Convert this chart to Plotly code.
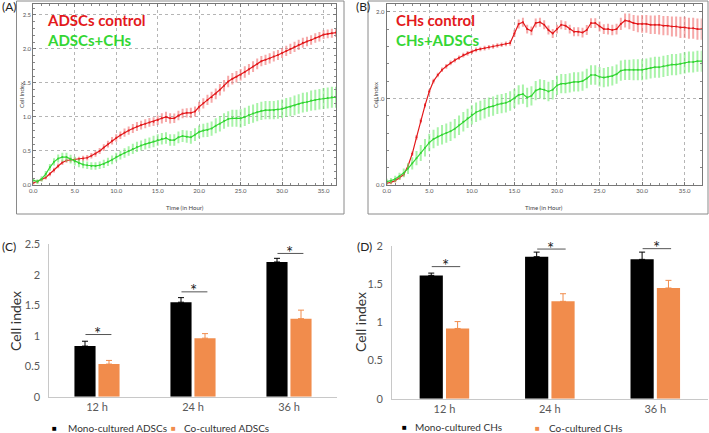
import plotly.graph_objects as go

W, H = 709, 433

# ---- real-time cell index (xCELLigence style) panels A and B ----
hours_a = [i * 0.5 for i in range(74)]   # 0 .. 36.5 h
hours_b = [i * 0.5 for i in range(75)]   # 0 .. 37 h

adsc_control = [
    0.03, 0.05, 0.08, 0.11, 0.16, 0.22, 0.28, 0.33, 0.36, 0.37,
    0.37, 0.38, 0.39, 0.40, 0.43, 0.46, 0.50, 0.55, 0.60, 0.65,
    0.69, 0.73, 0.77, 0.80, 0.83, 0.86, 0.88, 0.90, 0.92, 0.93,
    0.95, 0.98, 1.00, 0.98, 0.98, 1.02, 1.05, 1.06, 1.06, 1.08,
    1.15, 1.20, 1.25, 1.29, 1.34, 1.40, 1.46, 1.52, 1.56, 1.59,
    1.62, 1.66, 1.70, 1.74, 1.78, 1.82, 1.84, 1.86, 1.89, 1.91,
    1.94, 1.97, 2.00, 2.03, 2.06, 2.09, 2.11, 2.13, 2.16, 2.18,
    2.21, 2.22, 2.23, 2.24]
adsc_control_err = [
    0.01, 0.01, 0.01, 0.015, 0.015, 0.02, 0.02, 0.02, 0.02, 0.02,
    0.02, 0.02, 0.025, 0.025, 0.025, 0.03, 0.03, 0.035, 0.035, 0.04,
    0.04, 0.04, 0.045, 0.045, 0.05, 0.05, 0.05, 0.05, 0.05, 0.05,
    0.055, 0.06, 0.06, 0.06, 0.055, 0.055, 0.055, 0.055, 0.06, 0.06,
    0.06, 0.06, 0.06, 0.065, 0.065, 0.07, 0.07, 0.07, 0.07, 0.07,
    0.07, 0.07, 0.065, 0.065, 0.065, 0.06, 0.06, 0.06, 0.06, 0.06,
    0.06, 0.06, 0.06, 0.06, 0.06, 0.06, 0.055, 0.055, 0.055, 0.055,
    0.05, 0.05, 0.05, 0.05]
adsc_coculture = [
    0.07, 0.05, 0.09, 0.16, 0.26, 0.34, 0.39, 0.41, 0.41, 0.38,
    0.35, 0.32, 0.30, 0.29, 0.28, 0.28, 0.29, 0.31, 0.34, 0.37,
    0.41, 0.44, 0.47, 0.50, 0.53, 0.56, 0.58, 0.60, 0.62, 0.64,
    0.66, 0.68, 0.69, 0.66, 0.66, 0.70, 0.72, 0.71, 0.70, 0.74,
    0.78, 0.80, 0.81, 0.83, 0.87, 0.90, 0.94, 0.97, 0.98, 0.98,
    0.98, 1.00, 1.03, 1.05, 1.07, 1.09, 1.10, 1.10, 1.10, 1.11,
    1.12, 1.14, 1.15, 1.17, 1.19, 1.21, 1.22, 1.24, 1.25, 1.26,
    1.27, 1.28, 1.29, 1.29]
adsc_coculture_err = [
    0.02, 0.02, 0.025, 0.03, 0.035, 0.04, 0.045, 0.05, 0.05, 0.05,
    0.05, 0.045, 0.04, 0.04, 0.04, 0.04, 0.04, 0.045, 0.045, 0.05,
    0.05, 0.05, 0.055, 0.055, 0.06, 0.06, 0.06, 0.065, 0.065, 0.07,
    0.07, 0.07, 0.07, 0.07, 0.07, 0.07, 0.075, 0.075, 0.08, 0.08,
    0.08, 0.085, 0.09, 0.09, 0.095, 0.10, 0.10, 0.10, 0.11, 0.11,
    0.12, 0.12, 0.12, 0.12, 0.12, 0.12, 0.12, 0.12, 0.12, 0.12,
    0.12, 0.125, 0.125, 0.13, 0.13, 0.13, 0.13, 0.135, 0.135, 0.135,
    0.14, 0.14, 0.14, 0.14]

ch_control = [
    0.02, 0.03, 0.05, 0.08, 0.12, 0.22, 0.36, 0.55, 0.74, 0.92,
    1.08, 1.20, 1.27, 1.33, 1.37, 1.41, 1.44, 1.47, 1.50, 1.52,
    1.54, 1.56, 1.57, 1.58, 1.59, 1.60, 1.61, 1.62, 1.63, 1.64,
    1.75, 1.86, 1.88, 1.80, 1.78, 1.87, 1.88, 1.85, 1.79, 1.75,
    1.80, 1.85, 1.84, 1.80, 1.77, 1.77, 1.76, 1.79, 1.87, 1.87,
    1.83, 1.80, 1.80, 1.79, 1.80, 1.86, 1.90, 1.89, 1.87, 1.86,
    1.86, 1.86, 1.85, 1.85, 1.85, 1.84, 1.84, 1.83, 1.83, 1.82,
    1.82, 1.81, 1.81, 1.80, 1.80]
ch_control_err = [
    0.01, 0.01, 0.01, 0.01, 0.01, 0.015, 0.015, 0.015, 0.015, 0.015,
    0.015, 0.015, 0.015, 0.015, 0.015, 0.015, 0.015, 0.015, 0.015, 0.015,
    0.015, 0.015, 0.015, 0.015, 0.015, 0.015, 0.015, 0.015, 0.015, 0.02,
    0.03, 0.04, 0.04, 0.04, 0.04, 0.04, 0.04, 0.04, 0.04, 0.04,
    0.04, 0.04, 0.04, 0.04, 0.04, 0.04, 0.045, 0.045, 0.045, 0.045,
    0.045, 0.045, 0.05, 0.05, 0.05, 0.06, 0.07, 0.08, 0.08, 0.085,
    0.09, 0.09, 0.095, 0.095, 0.10, 0.10, 0.10, 0.105, 0.105, 0.11,
    0.11, 0.11, 0.11, 0.11, 0.11]
ch_coculture = [
    0.04, 0.05, 0.07, 0.10, 0.14, 0.19, 0.25, 0.31, 0.37, 0.43,
    0.49, 0.53, 0.56, 0.58, 0.60, 0.62, 0.65, 0.69, 0.73, 0.77,
    0.81, 0.84, 0.86, 0.88, 0.90, 0.91, 0.93, 0.94, 0.95, 0.97,
    1.00, 1.04, 1.05, 1.01, 1.03, 1.09, 1.11, 1.10, 1.08, 1.10,
    1.15, 1.17, 1.17, 1.18, 1.19, 1.19, 1.20, 1.23, 1.27, 1.27,
    1.25, 1.24, 1.25, 1.26, 1.28, 1.32, 1.33, 1.33, 1.33, 1.33,
    1.33, 1.34, 1.35, 1.36, 1.36, 1.37, 1.38, 1.39, 1.39, 1.40,
    1.41, 1.42, 1.42, 1.43, 1.43]
ch_coculture_err = [
    0.02, 0.02, 0.025, 0.03, 0.04, 0.05, 0.06, 0.07, 0.08, 0.09,
    0.09, 0.095, 0.095, 0.10, 0.10, 0.10, 0.10, 0.10, 0.10, 0.10,
    0.10, 0.10, 0.10, 0.10, 0.10, 0.10, 0.10, 0.10, 0.10, 0.10,
    0.10, 0.10, 0.10, 0.10, 0.10, 0.10, 0.10, 0.10, 0.10, 0.10,
    0.10, 0.10, 0.10, 0.10, 0.10, 0.10, 0.10, 0.10, 0.10, 0.10,
    0.10, 0.10, 0.10, 0.10, 0.10, 0.105, 0.105, 0.105, 0.11, 0.11,
    0.11, 0.11, 0.11, 0.11, 0.11, 0.11, 0.11, 0.11, 0.11, 0.11,
    0.11, 0.11, 0.11, 0.11, 0.11]

for arr in (adsc_control, adsc_control_err, adsc_coculture, adsc_coculture_err):
    assert len(arr) == len(hours_a)
for arr in (ch_control, ch_control_err, ch_coculture, ch_coculture_err):
    assert len(arr) == len(hours_b)

# ---- bar panels C and D ----
timepoints = ["12 h", "24 h", "36 h"]
mono_adsc = [0.83, 1.55, 2.21]
mono_adsc_err = [0.08, 0.075, 0.06]
co_adsc = [0.535, 0.96, 1.28]
co_adsc_err = [0.06, 0.075, 0.14]
sig_line_c = [1.02, 1.72, 2.35]

mono_ch = [1.615, 1.86, 1.825]
mono_ch_err = [0.03, 0.06, 0.095]
co_ch = [0.92, 1.275, 1.45]
co_ch_err = [0.09, 0.10, 0.10]
sig_line_d = [1.73, 1.96, 1.965]

RED = "#e3191c"
GREEN = "#34d634"
ORANGE = "#f18c4c"
FONT = "Lato"


def px(x):
    return x / W


def py(y):
    return 1 - y / H


fig = go.Figure()

# time-course traces
for xs, ys, es, color, band, ax in [
    (hours_a, adsc_control, adsc_control_err, RED, "rgba(240,110,110,0.6)", 1),
    (hours_a, adsc_coculture, adsc_coculture_err, GREEN, "rgba(110,235,110,0.6)", 1),
    (hours_b, ch_control, ch_control_err, RED, "rgba(240,110,110,0.6)", 2),
    (hours_b, ch_coculture, ch_coculture_err, GREEN, "rgba(110,235,110,0.6)", 2),
]:
    fig.add_trace(go.Scatter(
        x=xs, y=ys, mode="lines+markers",
        line=dict(color=color, width=1.2),
        marker=dict(color=color, size=2),
        error_y=dict(type="data", array=es, color=band, thickness=2, width=1),
        xaxis="x" if ax == 1 else "x2", yaxis="y" if ax == 1 else "y2",
        showlegend=False))

# bar traces
for cats_y, err, color, ax in [
    (mono_adsc, mono_adsc_err, "black", 3),
    (co_adsc, co_adsc_err, ORANGE, 3),
    (mono_ch, mono_ch_err, "black", 4),
    (co_ch, co_ch_err, ORANGE, 4),
]:
    fig.add_trace(go.Bar(
        x=timepoints, y=cats_y, marker=dict(color=color, line=dict(width=0)),
        error_y=dict(type="data", array=err, arrayminus=[0, 0, 0],
                     color=color, thickness=1, width=3),
        offsetgroup="mono" if color == "black" else "co",
        xaxis="x%d" % ax, yaxis="y%d" % ax, showlegend=False))

rt_x = dict(showgrid=True, griddash="dot", gridcolor="#b5b5b5", gridwidth=1,
            zeroline=False, showline=True, linecolor="#777", linewidth=1,
            mirror="ticks", ticks="inside", ticklen=3, tickcolor="#777",
            dtick=5, tickformat=".1f", automargin=False,
            tickfont=dict(size=6, color="#555", family=FONT),
            minor=dict(ticks="inside", ticklen=2, dtick=1, tickcolor="#888"))
rt_y = dict(rt_x)

bar_x = dict(showline=True, linecolor="#c8c8c8", linewidth=1, ticks="",
             tickfont=dict(size=11, color="#595959", family=FONT),
             showgrid=False, zeroline=False, automargin=False)
bar_y = dict(showline=True, linecolor="#c8c8c8", linewidth=1, ticks="",
             tickfont=dict(size=11, color="#595959", family=FONT),
             showgrid=False, zeroline=False, ticksuffix="  ", automargin=False)

fig.update_layout(
    width=W, height=H,
    margin=dict(l=0, r=0, t=0, b=0, autoexpand=False),
    paper_bgcolor="white", plot_bgcolor="white",
    font=dict(family=FONT, color="#222"),
    barmode="group", bargap=0.5, bargroupgap=0.12,
    xaxis=dict(rt_x, domain=[px(33.3), px(336)], range=[0, 36.5], anchor="y"),
    yaxis=dict(rt_y, domain=[py(185), py(4)], range=[0, 2.66], dtick=0.5,
               minor=dict(ticks="inside", ticklen=2, dtick=0.1, tickcolor="#888"),
               anchor="x"),
    xaxis2=dict(rt_x, domain=[px(386.7), px(701.7)], range=[0, 37], anchor="y2"),
    yaxis2=dict(rt_y, domain=[py(185), py(4)], range=[0, 2.09], dtick=1,
                minor=dict(ticks="inside", ticklen=2, dtick=0.2, tickcolor="#888"),
                anchor="x2"),
    xaxis3=dict(bar_x, domain=[px(49), px(337)], anchor="y3"),
    yaxis3=dict(bar_y, domain=[py(396.7), py(244.3)], range=[0, 2.5], dtick=0.5,
                anchor="x3"),
    xaxis4=dict(bar_x, domain=[px(391.7), px(708)], anchor="y4"),
    yaxis4=dict(bar_y, domain=[py(398.7), py(246)], range=[0, 2], dtick=0.5,
                anchor="x4"),
)

# outer frames around the instrument screenshots
for x0, x1 in [(16.5, 344), (368, 708)]:
    fig.add_shape(type="rect", xref="paper", yref="paper",
                  x0=px(x0), x1=px(x1), y0=py(214), y1=py(1),
                  line=dict(color="#8a8a8a", width=1))

ann = []


def text(x, y, s, size, color="#222", bold=False, xanchor="left", angle=0,
         family=FONT, yanchor="middle"):
    ann.append(dict(x=px(x), y=py(y), xref="paper", yref="paper",
                    text="<b>%s</b>" % s if bold else s, showarrow=False,
                    xanchor=xanchor, yanchor=yanchor, textangle=angle,
                    font=dict(size=size, color=color, family=family)))


# panel letters
text(0, 7, "(A)", 12)
text(354, 7, "(B)", 12)
text(0, 247, "(C)", 12)
text(355, 247, "(D)", 12)

# series labels inside the real-time plots
text(45, 20, "ADSCs control", 15, RED, bold=True)
text(45, 40, "ADSCs+CHs", 15, GREEN, bold=True)
text(394, 20, "CHs control", 15, RED, bold=True)
text(394, 40, "CHs+ADSCs", 15, GREEN, bold=True)

# axis titles of the real-time plots
for cx, ty in [(184.5, 207), (544, 207)]:
    text(cx, ty, "Time (in Hour)", 6, "#444", xanchor="center")
text(21, 95, "Cell Index", 6, "#444", xanchor="center", angle=-90)
text(375, 95, "Cell Index", 6, "#444", xanchor="center", angle=-90)

# axis titles of bar panels
text(15, 321, "Cell index", 14, "#333", xanchor="center", angle=-90)
text(360, 322, "Cell index", 14, "#333", xanchor="center", angle=-90)

# legends of bar panels
text(54.5, 428, "■", 8, "black", xanchor="center")
text(65.5, 428, "Mono-cultured ADSCs", 10, "#333")
text(173.5, 428, "■", 8, ORANGE, xanchor="center")
text(181.5, 428, "Co-cultured ADSCs", 10, "#333")
text(404, 427, "■", 8, "black", xanchor="center")
text(413, 427, "Mono-cultured CHs", 10, "#333")
text(537.5, 428, "■", 8, ORANGE, xanchor="center")
text(546.5, 428, "Co-cultured CHs", 10, "#333")

fig.update_layout(annotations=ann)

# significance brackets
for ax, levels in [(3, sig_line_c), (4, sig_line_d)]:
    for i, lvl in enumerate(levels):
        fig.add_shape(type="line", xref="x%d" % ax, yref="y%d" % ax,
                      x0=i - 0.12, x1=i + 0.15, y0=lvl, y1=lvl,
                      line=dict(color="#555", width=1))
        fig.add_annotation(x=i + 0.01, y=lvl, xref="x%d" % ax, yref="y%d" % ax,
                           text="*", showarrow=False, yanchor="middle", yshift=1,
                           font=dict(size=17, color="#222", family=FONT))

# the page body has an 8px default margin; drop it so the figure sits at 0,0
fig.write_html("out.html", config={"displayModeBar": False},
               post_script="document.body.style.margin = '0';")
